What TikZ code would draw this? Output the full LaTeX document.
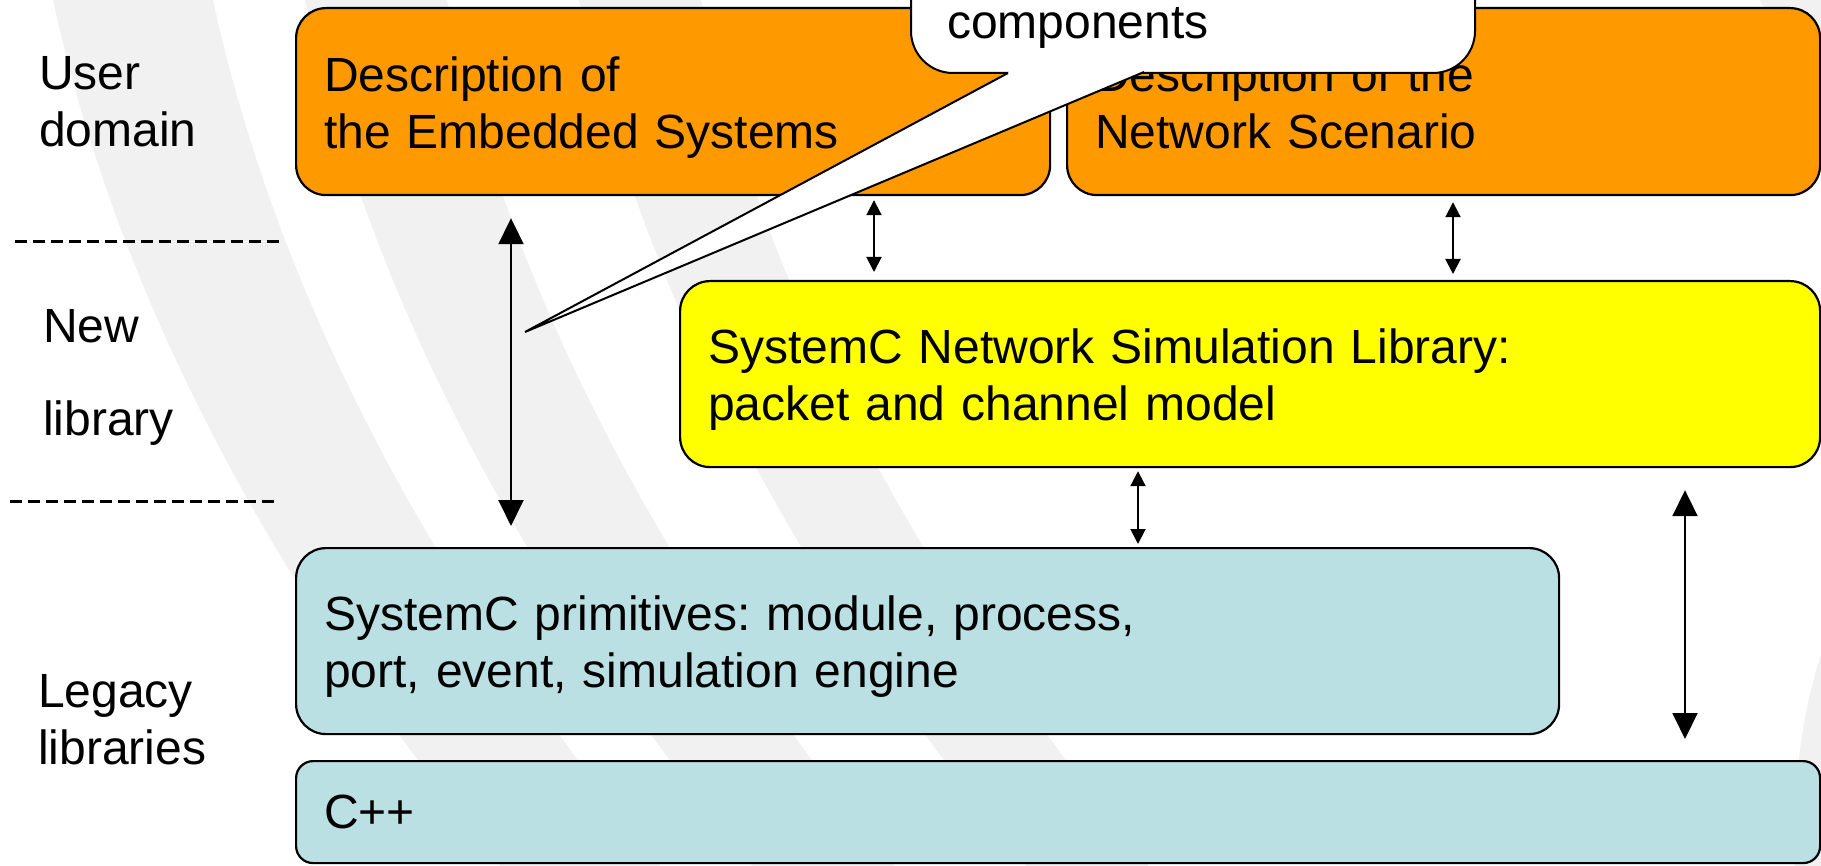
\documentclass[tikz,border=0pt]{standalone}
\usepackage{fontspec}
\setmainfont{Liberation Sans}
\usetikzlibrary{arrows.meta}
\definecolor{boxorange}{HTML}{FF9900}
\definecolor{boxyellow}{HTML}{FFFF00}
\definecolor{boxblue}{HTML}{BBE0E3}
\definecolor{bandgray}{HTML}{F1F1F1}

% one curved grey swoosh of the background: #1 = offset, #2 = width
\newcommand\bgband[2]{%
  \fill[bandgray]
    plot[domain=-0.3:8.9, samples=40, variable=\s]
      ({53+#1+21.7*\s+3.46*\s*\s}, {100*\s})
    -- plot[domain=8.9:-0.3, samples=40, variable=\s]
      ({53+#1+#2+21.7*\s+3.46*\s*\s}, {100*\s})
    -- cycle;}

\begin{document}
\frenchspacing
\begin{tikzpicture}[x=1pt, y=-1pt,
  every node/.style={font=\fontsize{48}{57}\selectfont\frenchspacing, inner sep=0pt},
  layerbox/.style={draw=black, line width=2.2pt, rounded corners=30pt,
    anchor=north west, align=left, inner xsep=28pt, inner ysep=0pt,
    text height=36pt, text depth=57pt},
  thinbox/.style={layerbox, rounded corners=17pt, text depth=4pt},
  sidelabel/.style={anchor=base west, align=left, text width=260pt},
  sep/.style={line width=3pt, dash pattern=on 12pt off 6pt},
  smallarr/.style={line width=2pt, >={Triangle[width=15pt,length=15pt]}, <->},
  bigarr/.style={line width=2pt, >={Triangle[width=25pt,length=26pt]}, <->},
  calloutline/.style={draw=black, line width=2pt}
]
\useasboundingbox (0,0) rectangle (1821,866);
\clip (0,0) rectangle (1821,866);
\fill[white] (0,0) rectangle (1821,866);

% background swooshes
\bgband{0}{160}
\bgband{252}{142}
\bgband{526}{122}
\fill[bandgray] (1753,-10) .. controls (1785,40) .. (1830,110)
  -- (1900,110) -- (1900,-10) -- cycle;
\fill[bandgray] (1830,630) .. controls (1802,700) and (1792,780) .. (1795,880)
  -- (1900,880) -- (1900,630) -- cycle;

% layer separators
\draw[sep] (15,242) -- (284,242);
\draw[sep] (10,501) -- (279,501);

% layer names
\node[sidelabel] (user) at (39,90) {User\\domain};
\node[sidelabel] (newlib) at (43,343) {New\\[36pt]library};
\node[sidelabel] (legacy) at (38,707) {Legacy\\libraries};

% layer boxes
\node[layerbox, fill=boxorange, minimum width=754pt, minimum height=187pt,
  text width=698pt] (emb) at (295,7)
  {Description of\\the Embedded Systems};
\node[layerbox, fill=boxorange, minimum width=753pt, minimum height=187pt,
  text width=697pt] (net) at (1066,7)
  {Description of the\\Network Scenario};
\node[layerbox, fill=boxyellow, minimum width=1140pt, minimum height=186pt,
  text width=1084pt] (lib) at (679,280)
  {SystemC Network Simulation Library:\\packet and channel model};
\node[layerbox, fill=boxblue, minimum width=1263pt, minimum height=186pt,
  text width=1207pt] (prim) at (295,547)
  {SystemC primitives: module, process,\\port, event, simulation engine};
\node[thinbox, fill=boxblue, minimum width=1524pt, minimum height=102pt,
  text width=1468pt] (cpp) at (295,760) {C++};

% connectors between layers
\coordinate (xa) at (874,0);
\coordinate (xb) at (1453,0);
\coordinate (xc) at (1138,0);
\coordinate (xd) at (511,0);
\coordinate (xe) at (1685,0);
\draw[smallarr, shorten <=4pt, shorten >=8pt] (emb.south -| xa) -- (lib.north -| xa);
\draw[smallarr, shorten <=6pt, shorten >=6pt] (net.south -| xb) -- (lib.north -| xb);
\draw[smallarr, shorten <=3pt, shorten >=3pt] (lib.south -| xc) -- (prim.north -| xc);
\draw[bigarr, shorten <=22pt, shorten >=21pt] (emb.south -| xd) -- (prim.north -| xd);
\draw[bigarr, shorten <=22pt, shorten >=21pt] (lib.south -| xe) -- (cpp.north -| xe);

% callout
\coordinate (tip) at (525,332);
\coordinate (wl) at (1008,73);
\coordinate (wr) at (1144,72);
\draw[calloutline, fill=white, rounded corners=42pt] (911,-160) rectangle (1475,73);
\fill[white] (1010,69) -- (1142,69) -- (wr) -- (tip) -- (wl) -- cycle;
\draw[line width=2pt, line join=miter] (wl) -- (tip) -- (wr);
\node[anchor=base west] (callouttext) at (947,39) {components};
\end{tikzpicture}
\end{document}
